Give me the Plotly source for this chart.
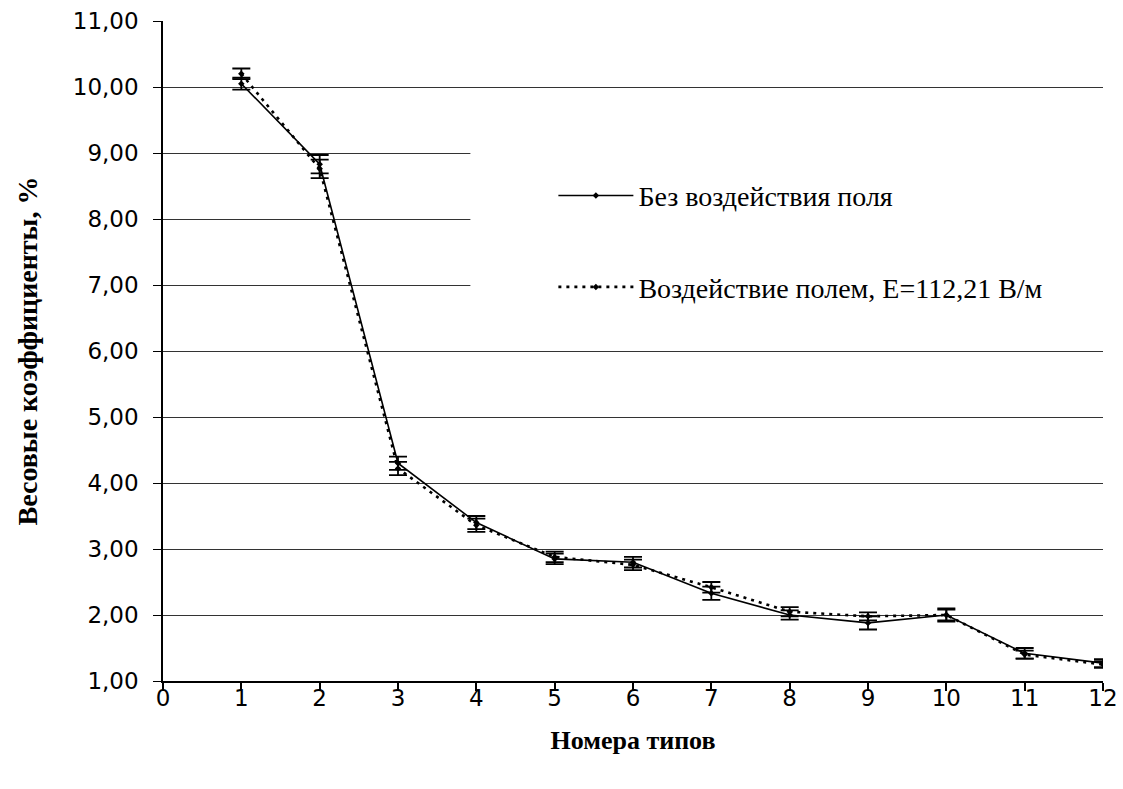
import plotly.graph_objects as go

types = [1, 2, 3, 4, 5, 6, 7, 8, 9, 10, 11, 12]
no_field = [10.05, 8.83, 4.30, 3.40, 2.85, 2.80, 2.33, 2.00, 1.88, 2.00, 1.42, 1.27]
no_field_err = [0.09, 0.14, 0.10, 0.10, 0.08, 0.08, 0.10, 0.07, 0.10, 0.10, 0.08, 0.06]
with_field = [10.20, 8.76, 4.22, 3.36, 2.88, 2.76, 2.42, 2.05, 1.98, 2.00, 1.40, 1.25]
with_field_err = [0.08, 0.14, 0.10, 0.10, 0.08, 0.08, 0.08, 0.07, 0.06, 0.08, 0.06, 0.05]
x_ticks = list(range(0, 13))
y_ticks = [1, 2, 3, 4, 5, 6, 7, 8, 9, 10, 11]

name1 = "Без воздействия поля"
name2 = "Воздействие полем, E=112,21 В/м"

SERIF = "Liberation Serif, Times New Roman, serif"
SANS = "DejaVu Sans, Arial, sans-serif"

fig = go.Figure()
fig.add_trace(go.Scatter(
    x=types, y=with_field, name=name2, mode="lines+markers", legendgroup="b", legendrank=2,
    line=dict(color="black", width=2.6, dash="3px,5px"),
    marker=dict(symbol="diamond", size=5, color="black"),
    error_y=dict(type="data", array=with_field_err, visible=True, color="black", thickness=1.8, width=9),
))
fig.add_trace(go.Scatter(
    x=types, y=no_field, name=name1, mode="lines+markers", legendgroup="a", legendrank=1,
    line=dict(color="black", width=1.6),
    marker=dict(symbol="diamond", size=5, color="black"),
    error_y=dict(type="data", array=no_field_err, visible=True, color="black", thickness=1.8, width=9),
))

# white area behind the legend, hiding gridlines as in the original
fig.add_shape(type="rect", xref="paper", yref="paper", x0=0.327, x1=1.0, y0=0.54, y1=0.86,
              fillcolor="white", line=dict(width=0), layer="above")

fig.update_layout(
    width=1123, height=789,
    margin=dict(l=163, r=20, t=21, b=108, autoexpand=False),
    paper_bgcolor="white", plot_bgcolor="white",
    separators=", ",
    showlegend=True,
    legend=dict(
        x=0.4153, xanchor="left", y=0.773, yanchor="top",
        bgcolor="rgba(0,0,0,0)", borderwidth=0,
        traceorder="grouped", tracegroupgap=52, itemwidth=75,
        font=dict(family=SERIF, size=28, color="black"),
    ),
    xaxis=dict(
        range=[0, 12], tickvals=x_ticks, ticktext=[str(v) for v in x_ticks],
        showgrid=False, showline=True, linecolor="black", linewidth=1.5,
        ticks="outside", ticklen=8, tickcolor="black", tickwidth=1.5,
        ticklabelstandoff=-12, automargin=False,
        tickfont=dict(family=SANS, size=23, color="black"),
        title=dict(text="<b>Номера типов</b>", standoff=20,
                   font=dict(family=SERIF, size=26, color="black")),
        zeroline=False,
    ),
    yaxis=dict(
        range=[1, 11], tickvals=y_ticks, tickformat=".2f",
        showgrid=True, gridcolor="#333333", gridwidth=1,
        showline=True, linecolor="black", linewidth=1.5,
        ticks="outside", ticklen=8, tickcolor="black", tickwidth=1,
        ticklabelstandoff=10, automargin=False,
        tickfont=dict(family=SANS, size=23, color="black"),
        title=dict(text="<b>Весовые коэффициенты, %</b>", standoff=27,
                   font=dict(family=SERIF, size=28, color="black")),
        zeroline=False,
    ),
)

fig.write_html("out.html")
